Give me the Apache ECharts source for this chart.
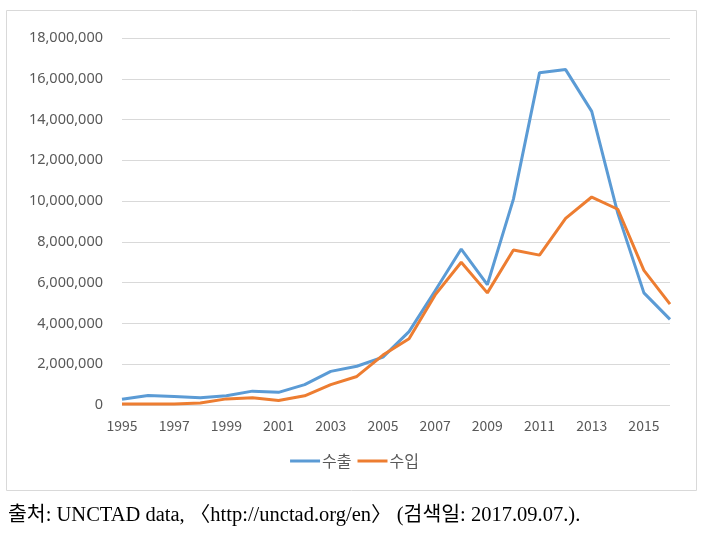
<!DOCTYPE html>
<html><head><meta charset="utf-8">
<script src="https://cdn.jsdelivr.net/npm/echarts@6/dist/echarts.min.js"></script>
<style>html,body{margin:0;padding:0;background:#fff}#c{width:709px;height:556px}</style>
</head><body><div id="c"></div>
<script>
const years = ['1995','1996','1997','1998','1999','2000','2001','2002','2003','2004','2005','2006','2007','2008','2009','2010','2011','2012','2013','2014','2015','2016'];
const exportVals = [280000,470000,420000,350000,450000,680000,620000,1000000,1650000,1900000,2350000,3600000,5600000,7650000,5900000,10100000,16300000,16450000,14400000,9400000,5500000,4200000];
const importVals = [50000,50000,50000,100000,300000,350000,220000,450000,1000000,1400000,2450000,3250000,5400000,7000000,5500000,7600000,7350000,9150000,10200000,9600000,6600000,4950000];
const seriesNames = ['수출','수입'];
const caption = '출처: UNCTAD data, 〈http://unctad.org/en〉 (검색일: 2017.09.07.).';

const chart = echarts.init(document.getElementById('c'));
chart.setOption({
  animation:false,
  color:['#5B9BD5','#ED7D31'],
  textStyle:{fontFamily:'"Noto Sans","Noto Sans CJK KR",sans-serif'},
  graphic:[
    {type:'rect',shape:{x:6.5,y:10.5,width:690,height:480},style:{fill:'none',stroke:'#d9d9d9',lineWidth:1}},
    {type:'text',left:8,top:505,style:{text:caption,fill:'#000',font:'20.5px "Liberation Serif","Noto Sans CJK KR",serif'}}
  ],
  grid:{left:122,right:39,top:38,bottom:151},
  legend:{data:seriesNames,bottom:82,left:'center',itemWidth:30,itemHeight:3,itemGap:6,icon:'rect',
    textStyle:{color:'#595959',fontSize:16,padding:[0,0,0,-3],fontFamily:'"Noto Sans CJK KR",sans-serif'}},
  xAxis:{type:'category',data:years,boundaryGap:false,
    axisLine:{show:false},axisTick:{show:false},
    axisLabel:{interval:1,color:'#595959',fontSize:14,margin:14,fontFamily:'"Noto Sans CJK KR",sans-serif'}},
  yAxis:{type:'value',min:0,max:18000000,interval:2000000,
    axisLine:{show:false},axisTick:{show:false},
    splitLine:{lineStyle:{color:'#d9d9d9',width:1}},
    axisLabel:{color:'#595959',fontSize:14.5,margin:19,fontFamily:'"Noto Sans",sans-serif',formatter:v=>v.toLocaleString('en-US')}},
  series:[
    {name:seriesNames[0],type:'line',data:exportVals,symbol:'none',lineStyle:{width:3}},
    {name:seriesNames[1],type:'line',data:importVals,symbol:'none',lineStyle:{width:3}}
  ]
});
</script></body></html>
